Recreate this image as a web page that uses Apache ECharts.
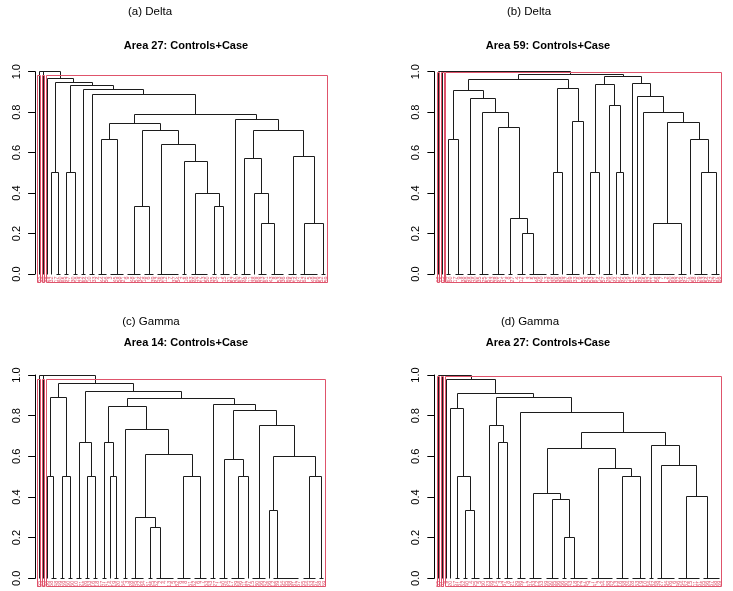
<!DOCTYPE html>
<html><head><meta charset="utf-8">
<script src="https://cdn.jsdelivr.net/npm/echarts@6/dist/echarts.min.js"></script>
<style>html,body{margin:0;padding:0;background:#fff}#c{width:733px;height:591px}</style>
</head><body><div id="c"></div>
<script>
const panelTitles = ['(a) Delta', '(b) Delta', '(c) Gamma', '(d) Gamma'];
const plotTitles = ['Area 27: Controls+Case', 'Area 59: Controls+Case', 'Area 14: Controls+Case', 'Area 27: Controls+Case'];
const yTicks = [0, 0.2, 0.4, 0.6, 0.8, 1.0];

const labelsA = [55,28,29,32,17,60,65,47,30,19, 22,64,10,33,4,44,56,3,45,58, 21,9,48,51,34,18,6,39,42,26,
  12,7,37,54,2,16,63,40,27,13, 50,35,24,1,15,31,57,20,67,46, 11,38,68,23,61,43,8,53,36,69, 25,14,41,62,5,49,66,52,59];
const labelsB = [62,15,24,60,17,9,38,59,49,20, 35,25,51,23,28,41,31,8,27,4, 12,1,3,5,46,40,13,18,30,36,
  39,67,69,33,6,55,43,53,61,14, 57,26,10,44,64,45,19,21,52,48, 65,32,11,56,7,2,50,68,22,34, 47,16,58,29,63,54,42,37,66];
const labelsC = [55,23,36,58,48,49,59,50,60,10, 21,26,33,16,18,47,41,14,19,20, 54,3,28,45,22,34,51,25,52,2,
  4,13,5,32,9,8,61,62,6,7, 53,43,27,1,40,24,17,29,46,11, 37,15,30,66,42,56,12,39,64,35, 38,31,57,65,44,63,67,68,69];
const labelsD = [55,51,9,20,57,31,52,40,4,25, 5,60,23,49,14,3,37,8,21,29, 39,1,47,33,12,53,59,50,35,36,
  56,30,43,18,22,17,45,7,41,2, 44,38,42,13,16,58,24,28,63,19, 10,54,32,48,27,34,26,6,46,64, 62,15,11,61,65,66,67,68,69];

// merges: [name, height, left, right]; integers = leaf positions, strings = named merges, [0,a,b] = zero-height ties
const mergesA = [
  ['root', 1.0, 1, 'X'],
  ['X', 1.0, 2, 'A1'],
  ['A1', 0.964, 3, 'A2'],
  ['A2', 0.947, 'B1', 'A3'],
  ['B1', 0.5, 4, [0,5,6]],
  ['A3', 0.931, 'B2', 'A4'],
  ['B2', 0.5, [0,7,8], [0,9,10]],
  ['A4', 0.911, [0,11,12], 'A5'],
  ['A5', 0.888, [0,13,14], 'A6'],
  ['A6', 0.789, 'C1', 'D1'],
  ['C1', 0.745, 'C2', 'C3'],
  ['C2', 0.667, [0,15,[0,16,17]], [0,[0,18,19],[0,20,21]]],
  ['C3', 0.707, 'C4', 'C5'],
  ['C4', 0.334, [0,[0,22,23],[0,24,25]], [0,[0,26,27],28]],
  ['C5', 0.638, [0,29,[0,30,[0,31,[0,32,[0,33,34]]]]], 'C6'],
  ['C6', 0.555, [0,35,36], 'C7'],
  ['C7', 0.399, [0,37,[0,38,[0,39,[0,40,41]]]], 'C8'],
  ['C8', 0.334, [0,42,43], [0,44,[0,45,46]]],
  ['D1', 0.764, [0,47,48], 'D2'],
  ['D2', 0.707, 'D3', 'D6'],
  ['D3', 0.57, [0,49,[0,50,51]], 'D4'],
  ['D4', 0.4, 52, 'D5'],
  ['D5', 0.25, [0,53,[0,54,55]], [0,56,[0,57,[0,58,59]]]],
  ['D6', 0.583, [0,[0,60,61],62], 'D7'],
  ['D7', 0.25, [0,63,[0,64,[0,65,[0,66,67]]]], [0,68,69]]
];
const mergesB = [
  ['root', 1.0, 1, 'N1'],
  ['N1', 1.0, 2, 'N2'],
  ['N2', 0.988, 'P1', 'R1'],
  ['P1', 0.959, 'P2', 'P8'],
  ['P2', 0.906, 'Q1', 'P3'],
  ['Q1', 0.667, [0,3,4], [0,5,[0,6,7]]],
  ['P3', 0.867, [0,8,[0,9,10]], 'P4'],
  ['P4', 0.797, [0,11,[0,12,13]], 'P5'],
  ['P5', 0.722, [0,[0,14,15],[0,16,17]], 'P6'],
  ['P6', 0.275, [0,18,19], 'P7'],
  ['P7', 0.2, [0,[0,20,21],22], [0,23,[0,24,[0,25,[0,26,27]]]]],
  ['P8', 0.916, 'P9', 'P10'],
  ['P9', 0.5, [0,28,[0,29,30]], 31],
  ['P10', 0.753, [0,[0,32,33],[0,34,35]], 36],
  ['R1', 0.975, 'R2', 'R6'],
  ['R2', 0.936, 'R3', 'R4'],
  ['R3', 0.5, [0,37,[0,38,39]], 40],
  ['R4', 0.835, [0,[0,41,42],43], 'R5'],
  ['R5', 0.5, 44, [0,45,[0,46,47]]],
  ['R6', 0.942, 48, 'R7'],
  ['R7', 0.878, 49, 'R8'],
  ['R8', 0.799, [0,50,51], 'R9'],
  ['R9', 0.75, 'R10', 'R11'],
  ['R10', 0.25, [0,52,[0,53,[0,54,[0,55,[0,56,[0,57,58]]]]]], [0,59,[0,60,61]]],
  ['R11', 0.667, 62, 'R12'],
  ['R12', 0.5, [0,[0,63,64],[0,65,66]], [0,[0,67,68],69]]
];
const mergesC = [
  ['root', 1.0, 1, 'X'],
  ['X', 1.0, 2, 'N1'],
  ['N1', 0.959, 'M1', 'N2'],
  ['M1', 0.89, 'M2', 'M3'],
  ['M2', 0.5, 3, [0,4,5]],
  ['M3', 0.5, [0,6,7], [0,8,9]],
  ['N2', 0.921, 'M4', 'N3'],
  ['M4', 0.667, [0,10,11], 'M5'],
  ['M5', 0.5, [0,12,13], [0,14,15]],
  ['N3', 0.882, 'N4', 'N7'],
  ['N4', 0.843, 'M6', 'N5'],
  ['M6', 0.667, [0,16,17], 'M7'],
  ['M7', 0.5, 18, [0,19,20]],
  ['N5', 0.733, [0,21,22], 'N6'],
  ['N6', 0.61, 'T1', 'T3'],
  ['T1', 0.3, [0,23,[0,24,[0,25,26]]], 'T2'],
  ['T2', 0.25, [0,27,28], [0,29,[0,30,[0,31,[0,32,33]]]]],
  ['T3', 0.5, [0,[0,34,35],[0,36,37]], [0,[0,38,39],[0,40,41]]],
  ['N7', 0.856, [0,42,43], 'N8'],
  ['N8', 0.825, 'U1', 'U3'],
  ['U1', 0.585, [0,[0,44,45],46], 'U2'],
  ['U2', 0.5, [0,[0,47,48],[0,49,50]], 51],
  ['U3', 0.75, [0,[0,52,53],[0,54,55]], 'U4'],
  ['U4', 0.6, 'U5', 'U6'],
  ['U5', 0.333, 56, [0,57,[0,58,[0,59,[0,60,[0,61,[0,62,63]]]]]]],
  ['U6', 0.5, [0,[0,64,65],[0,66,67]], [0,68,69]]
];
const mergesD = [
  ['root', 1.0, 1, 'X'],
  ['X', 1.0, 2, 'N1'],
  ['N1', 0.98, 3, 'N2'],
  ['N2', 0.91, 'S1', 'N3'],
  ['S1', 0.833, 4, 'S2'],
  ['S2', 0.5, [0,5,6], 'S3'],
  ['S3', 0.333, [0,7,8], [0,9,[0,10,11]]],
  ['N3', 0.89, 'S4', 'N4'],
  ['S4', 0.751, [0,[0,12,13],14], 'S5'],
  ['S5', 0.667, [0,15,16], [0,17,[0,18,19]]],
  ['N4', 0.816, [0,20,[0,21,22]], 'N5'],
  ['N5', 0.716, 'N6', 'N7'],
  ['N6', 0.639, 'T1', 'T4'],
  ['T1', 0.418, [0,23,[0,24,[0,25,26]]], 'T2'],
  ['T2', 0.389, [0,[0,27,28],[0,29,30]], 'T3'],
  ['T3', 0.2, [0,31,32], [0,33,[0,34,[0,35,[0,36,37]]]]],
  ['T4', 0.539, [0,[0,38,39],[0,40,[0,41,[0,42,43]]]], 'T5'],
  ['T5', 0.5, [0,[0,44,45],[0,46,47]], [0,[0,48,[0,49,50]],51]],
  ['N7', 0.654, [0,52,53], 'N8'],
  ['N8', 0.556, [0,54,[0,55,[0,56,[0,57,58]]]], 'N9'],
  ['N9', 0.4, [0,[0,59,60],[0,[0,61,62],[0,63,64]]], [0,65,[0,66,[0,67,[0,68,69]]]]]
];
// rect.hclust(k = 3): cluster sizes and box tops
const clusterSizesA = [1, 1, 67];
const clusterSizesB = [1, 1, 67];
const clusterSizesC = [1, 1, 67];
const clusterSizesD = [1, 1, 67];
const boxTops = [0.983, 0.994, 0.98, 0.992];

const panels = [
  {labels: labelsA, merges: mergesA, sizes: clusterSizesA},
  {labels: labelsB, merges: mergesB, sizes: clusterSizesB},
  {labels: labelsC, merges: mergesC, sizes: clusterSizesC},
  {labels: labelsD, merges: mergesD, sizes: clusterSizesD}
];
// pixel frame of each panel (layout only)
const frames = [
  {axisX: 26, top: 71.7, bottom: 274, leaf1: 39.3, leafN: 326, tx: 150, ty: 12, sx: 186, sy: 46},
  {axisX: 425.3, top: 71.7, bottom: 274, leaf1: 438.7, leafN: 724.3, tx: 529, ty: 12, sx: 548, sy: 46},
  {axisX: 26, top: 375, bottom: 578.3, leaf1: 39.3, leafN: 324, tx: 151, ty: 322, sx: 186, sy: 343},
  {axisX: 425.3, top: 375, bottom: 578.3, leaf1: 438.7, leafN: 725.3, tx: 530, ty: 322, sx: 548, sy: 343}
];

function layoutTree(merges) {
  const byName = {};
  merges.forEach(m => { byName[m[0]] = m; });
  const segs = [];
  function walk(node) {
    if (typeof node === 'number') return [node, 0];
    let h, l, r;
    if (typeof node === 'string') { const m = byName[node]; h = m[1]; l = m[2]; r = m[3]; }
    else { h = node[0]; l = node[1]; r = node[2]; }
    const a = walk(l), b = walk(r);
    segs.push([a[0], a[1], b[0], b[1], h]);
    return [(a[0] + b[0]) / 2, h];
  }
  walk('root');
  return segs;
}

const FONT = "'Liberation Sans', Arial, Helvetica, sans-serif";
const RED = '#DF536B';
const grids = [], xAxes = [], yAxes = [], series = [], graphics = [];
const snap = v => Math.round(v - 0.5) + 0.5;

panels.forEach((p, i) => {
  const f = frames[i];
  const n = p.labels.length;
  const u = (f.leafN - f.leaf1) / (n - 1);
  const pad = (f.leaf1 - f.axisX) / u;
  grids.push({left: f.axisX, top: f.top, width: (f.leafN - f.leaf1) + 2 * (f.leaf1 - f.axisX), height: f.bottom - f.top});
  xAxes.push({type: 'value', gridIndex: i, min: 1 - pad, max: n + pad, show: false});
  yAxes.push({
    type: 'value', gridIndex: i, min: 0, max: 1, interval: 0.2,
    axisLine: {show: true, lineStyle: {color: '#000', width: 1}},
    axisTick: {show: true, length: 7, lineStyle: {color: '#000', width: 1}},
    splitLine: {show: false},
    axisLabel: {rotate: 90, margin: 4, fontSize: 11, color: '#000', fontFamily: FONT,
      formatter: v => yTicks.some(t => Math.abs(t - v) < 1e-9) ? v.toFixed(1) : ''}
  });
  const segs = layoutTree(p.merges);
  series.push({
    type: 'custom', xAxisIndex: i, yAxisIndex: i, clip: false, silent: true,
    data: segs,
    renderItem: (params, api) => {
      const a = api.coord([api.value(0), api.value(1)]);
      const b = api.coord([api.value(0), api.value(4)]);
      const c = api.coord([api.value(2), api.value(4)]);
      const d = api.coord([api.value(2), api.value(3)]);
      const pts = [a, b, c, d].map(q => [snap(q[0]), snap(q[1])]);
      return {type: 'polyline', shape: {points: pts}, style: {stroke: '#1c1c1c', lineWidth: 1, fill: null}};
    }
  });
  series.push({
    type: 'custom', xAxisIndex: i, yAxisIndex: i, clip: false, silent: true,
    data: p.labels.map((l, k) => [k + 1, 0]),
    renderItem: (params, api) => {
      const q = api.coord([api.value(0), 0]);
      return {type: 'text', x: q[0], y: q[1] + 2.5, rotation: Math.PI / 2,
        style: {text: String(p.labels[params.dataIndex]), fill: RED, font: '5.5px ' + FONT, align: 'right', verticalAlign: 'middle'}};
    }
  });
  const boxes = [];
  let cum = 0;
  p.sizes.forEach(s => { boxes.push([cum + 0.66, cum + s + 0.33, boxTops[i], -0.04]); cum += s; });
  series.push({
    type: 'custom', xAxisIndex: i, yAxisIndex: i, clip: false, silent: true,
    data: boxes,
    renderItem: (params, api) => {
      const a = api.coord([api.value(0), api.value(2)]);
      const b = api.coord([api.value(1), api.value(3)]);
      const x0 = snap(a[0]), y0 = snap(a[1]), x1 = snap(b[0]), y1 = snap(b[1]);
      return {type: 'rect', shape: {x: x0, y: y0, width: x1 - x0, height: y1 - y0}, style: {stroke: RED, lineWidth: 1, fill: null}};
    }
  });
  graphics.push({type: 'text', x: f.tx, y: f.ty, style: {text: panelTitles[i], font: '11.5px ' + FONT, fill: '#000', align: 'center', verticalAlign: 'middle'}});
  graphics.push({type: 'text', x: f.sx, y: f.sy, style: {text: plotTitles[i], font: 'bold 11px ' + FONT, fill: '#000', align: 'center', verticalAlign: 'middle'}});
});

const chart = echarts.init(document.getElementById('c'), null, {renderer: 'canvas'});
chart.setOption({
  backgroundColor: '#fff',
  animation: false,
  grid: grids, xAxis: xAxes, yAxis: yAxes, series: series, graphic: graphics
});
</script></body></html>
